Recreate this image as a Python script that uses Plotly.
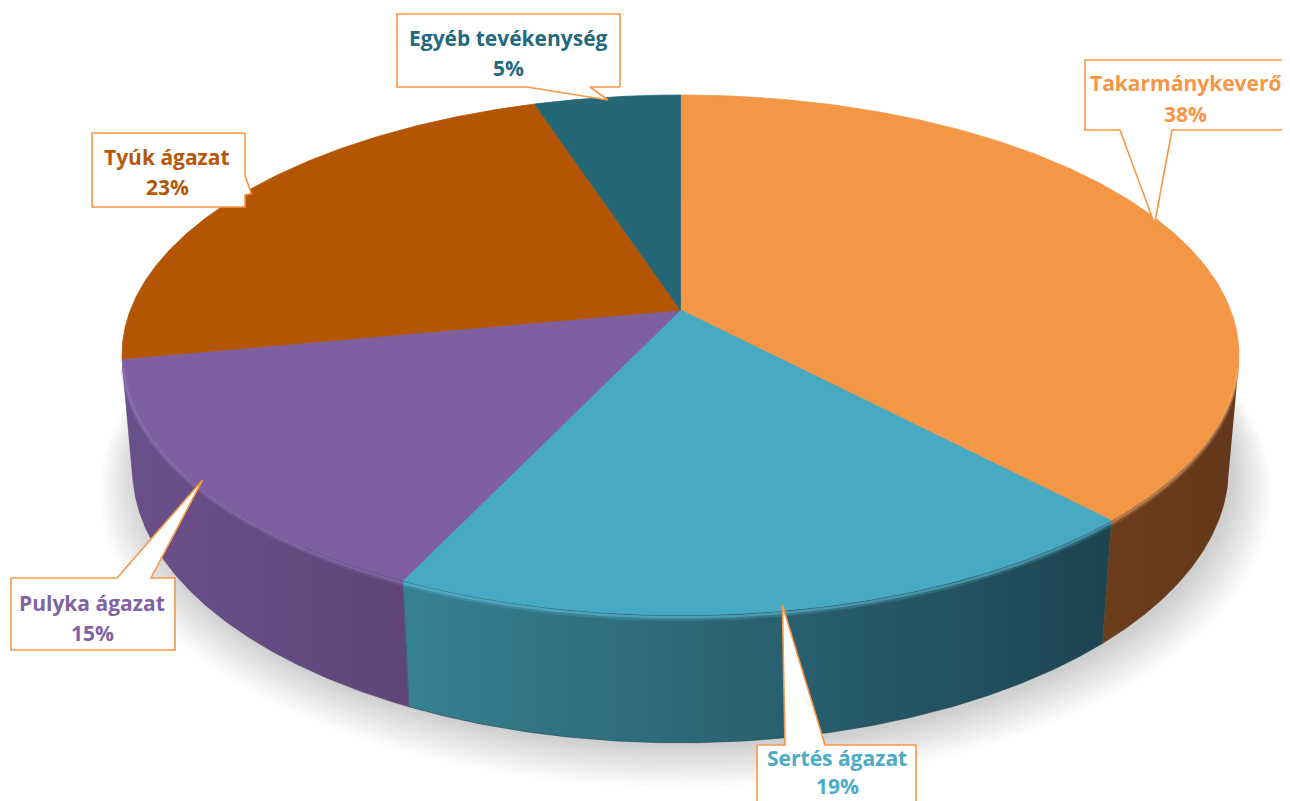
import numpy as np
import plotly.graph_objects as go

# ---------------- data ----------------
labels = ["Takarmánykeverő", "Sertés ágazat", "Pulyka ágazat", "Tyúk ágazat", "Egyéb tevékenység"]
values = [38, 19, 15, 23, 5]
pct_labels = ["38%", "19%", "15%", "23%", "5%"]

# ---------------- styles ----------------
top_colors = ["#F39645", "#47A9C2", "#7E60A0", "#B45504", "#246878"]
side_left = ["#6C3D1B", "#378093", "#6A508A", "#8A4203", "#1C5260"]
side_right = ["#63371A", "#1D4451", "#5E4678", "#7A3A02", "#1A4A56"]
rim_colors = ["#F9B57A", "#6AD2EC", "#9B80C2", "#D07020", "#3A8A9C"]
text_colors = ["#F79646", "#4BACC6", "#8064A2", "#B65708", "#246A7C"]
callout_line = "#F79646"

W, H = 1290, 801
OFF = 8  # page body margin
TOP_LEFT, TOP_RIGHT, TOP_Y0, TOP_Y1 = 122, 1239, 95, 615
TILT = np.radians(26)
DIST = 5.2
THICK = 0.22

# callout boxes: x0, y0, x1, y1, tail edge, tail base a, tail base b
boxes = [
    (1085, 60, 1291, 130, "bottom", 1120, 1172),
    (757, 745, 916, 815, "top", 785, 825),
    (11, 578, 175, 650, "top", 117, 151),
    (92, 133, 245, 207, "right", 175, 195),
    (397, 14, 620, 87, "bottom", 527, 590),
]
text_centers = [(1185, 83, 114), (837, 758, 786), (92, 603, 633), (167, 157, 187), (508, 38, 68)]

s, c = np.sin(TILT), np.cos(TILT)


def proj(X, Y, Z):
    zc = -Y * s + Z * c + DIST
    return X / zc, (Y * c + Z * s) / zc


# fit projection to pixel box using the top rim
tt = np.linspace(0, 2 * np.pi, 2000)
rx, ry = proj(np.sin(tt), 0 * tt, np.cos(tt))
xmin, xmax, ymin, ymax = rx.min(), rx.max(), ry.min(), ry.max()


def to_px(X, Y, Z):
    xs, ys = proj(X, Y, Z)
    px = TOP_LEFT + (xs - xmin) / (xmax - xmin) * (TOP_RIGHT - TOP_LEFT)
    py = TOP_Y0 + (ymax - ys) / (ymax - ymin) * (TOP_Y1 - TOP_Y0)
    return px, py


def rim(t1, t2, Y=0.0, r=1.0, n=200):
    t = np.linspace(t1, t2, n)
    return to_px(r * np.sin(t), Y + 0 * t, r * np.cos(t))


total = sum(values)
bounds = np.concatenate([[0], np.cumsum(values)]) / total * 2 * np.pi
vis_a = np.arccos(-1 / (DIST * c))
vis_b = 2 * np.pi - vis_a

fig = go.Figure()

# soft shadow
for k in range(12):
    grow = 1.0 + 0.006 * k
    sx, sy = rim(0, 2 * np.pi, Y=-THICK, r=grow, n=400)
    fig.add_trace(go.Scatter(x=sx + 5, y=sy + 4 + 1.3 * k, mode="lines", fill="toself",
                             fillcolor="rgba(0,0,0,0.014)", line=dict(width=0),
                             hoverinfo="skip", showlegend=False))

# sides
for i in range(len(values)):
    a, b = max(bounds[i], vis_a), min(bounds[i + 1], vis_b)
    if b <= a:
        continue
    tx, ty = rim(a, b, 0.0)
    bx, by = rim(a, b, -THICK)
    xs = np.concatenate([tx, bx[::-1]])
    ys = np.concatenate([ty, by[::-1]])
    fig.add_trace(go.Scatter(x=xs, y=ys, mode="lines", fill="toself",
                             fillgradient=dict(type="horizontal",
                                               colorscale=[[0, side_left[i]], [1, side_right[i]]]),
                             line=dict(width=0.6, color=side_right[i]),
                             hoverinfo="skip", showlegend=False))

# top faces
cx, cy = to_px(0.0, 0.0, 0.0)
for i in range(len(values)):
    tx, ty = rim(bounds[i], bounds[i + 1], 0.0)
    xs = np.concatenate([[cx], tx, [cx]])
    ys = np.concatenate([[cy], ty, [cy]])
    fig.add_trace(go.Scatter(x=xs, y=ys, mode="lines", fill="toself",
                             fillcolor=top_colors[i], line=dict(width=0.8, color=top_colors[i]),
                             name=labels[i], hoverinfo="skip", showlegend=False))

# rim highlight (soft bevel)
for i in range(len(values)):
    a, b = max(bounds[i], vis_a), min(bounds[i + 1], vis_b)
    if b <= a:
        continue
    for Yoff, wdt, op in ((-0.006, 5, 0.18), (-0.004, 2.5, 0.4)):
        tx, ty = rim(a, b, Yoff)
        fig.add_trace(go.Scatter(x=tx, y=ty, mode="lines",
                                 line=dict(width=wdt, color=rim_colors[i]), opacity=op,
                                 hoverinfo="skip", showlegend=False))

# callouts
for i, (x0, y0, x1, y1, edge, ta, tb) in enumerate(boxes):
    mid = (bounds[i] + bounds[i + 1]) / 2
    tipx, tipy = to_px(0.985 * np.sin(mid), 0.0, 0.985 * np.cos(mid))
    if edge == "bottom":
        px = [x1, tb, tipx, ta, x0, x0, x1, x1]
        py = [y1, y1, tipy, y1, y1, y0, y0, y1]
    elif edge == "top":
        px = [x0, ta, tipx, tb, x1, x1, x0, x0]
        py = [y0, y0, tipy, y0, y0, y1, y1, y0]
    else:
        px = [x1, x1, tipx, x1, x1, x0, x0, x1]
        py = [y0, ta, tipy, tb, y1, y1, y0, y0]
    fig.add_trace(go.Scatter(x=px, y=py, mode="lines", fill="toself", fillcolor="white",
                             line=dict(width=1.6, color=callout_line),
                             hoverinfo="skip", showlegend=False))
    tcx, l1, l2 = text_centers[i]
    for txt, yy in ((labels[i], l1), (pct_labels[i], l2)):
        fig.add_annotation(x=tcx, y=yy, text="<b>" + txt + "</b>", showarrow=False,
                           xanchor="center", yanchor="middle",
                           font=dict(family="Open Sans", size=21, color=text_colors[i]))

fig.update_layout(
    width=W - OFF, height=H - OFF, margin=dict(l=0, r=0, t=0, b=0),
    paper_bgcolor="white", plot_bgcolor="white", showlegend=False,
    xaxis=dict(range=[OFF, W], visible=False, fixedrange=True),
    yaxis=dict(range=[H, OFF], visible=False, fixedrange=True),
)
fig.write_html("out.html")
